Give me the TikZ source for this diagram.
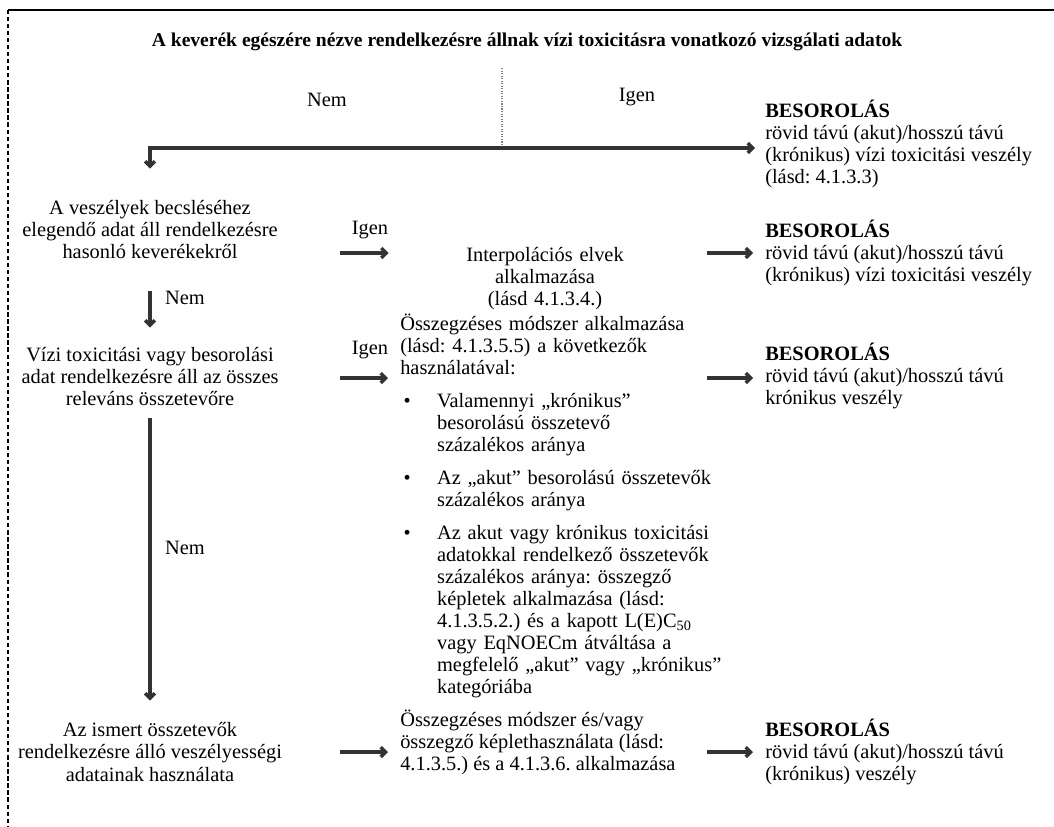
\documentclass[tikz,border=0pt]{standalone}
\usepackage{fontspec}
\setmainfont{Liberation Serif}
\usetikzlibrary{arrows.meta}

\tikzset{
  txt/.style={inner sep=0pt, font=\fontsize{14.5}{15.65}\selectfont\frenchspacing},
  flow/.style={-{Straight Barb[length=3.5pt,width=7pt]}, line width=2.4pt, black!80},
}

\begin{document}
\begin{tikzpicture}[x=0.025cm, y=-0.025cm]
    \useasboundingbox (0,0) rectangle (1054,827);
    % Frame
    \draw[line width=2pt] (8,10) -- (1054,10);
    \draw[densely dashed, line width=0.9pt] (8,10) -- (8,827);

    % Define nodes
    \node[txt, font=\fontsize{13.9}{16}\selectfont\bfseries] (title) at (527,42) {A keverék egészére nézve rendelkezésre állnak vízi toxicitásra vonatkozó vizsgálati adatok};
    \node[txt] (nem1) at (327,100) {Nem};
    \node[txt] (igen1) at (637,97) {Igen};
    \node[txt, align=left, anchor=west] (res1) at (765,144) {\textbf{BESOROLÁS}\\rövid távú (akut)/hosszú távú\\(krónikus) vízi toxicitási veszély\\(lásd: 4.1.3.3)};

    \node[txt, align=center] (step1) at (150,230) {A veszélyek becsléséhez\\elegendő adat áll rendelkezésre\\hasonló keverékekről};
    \node[txt] (igen2) at (370,230) {Igen};
    \node[txt, align=center, text width=7.5cm] (mid1) at (545,279) {Interpolációs elvek\\alkalmazása\\(lásd 4.1.3.4.)};
    \node[txt, align=left, anchor=west] (res2) at (765,253) {\textbf{BESOROLÁS}\\rövid távú (akut)/hosszú távú\\(krónikus) vízi toxicitási veszély};

    \node[txt] (nem2) at (185,298) {Nem};
    \node[txt, align=center] (step2) at (150,377) {Vízi toxicitási vagy besorolási\\adat rendelkezésre áll az összes\\releváns összetevőre};
    \node[txt] (igen3) at (370,350) {Igen};
    \node[txt, anchor=north west, text width=8.5cm] (mid2) at (400,314) {\raggedright
      Összegzéses módszer alkalmazása\\(lásd: 4.1.3.5.5) a következők\\használatával:\par
      \begin{list}{\textbullet}{\setlength\leftmargin{0.92cm}\setlength\labelsep{0.66cm}%
        \setlength\itemsep{0.27cm}\setlength\topsep{0.27cm}\setlength\parsep{0pt}\setlength\partopsep{0pt}}
      \item Valamennyi „krónikus”\\besorolású összetevő\\százalékos aránya
      \item Az „akut” besorolású összetevők\\százalékos aránya
      \item Az akut vagy krónikus toxicitási\\adatokkal rendelkező összetevők\\százalékos aránya: összegző\\képletek alkalmazása (lásd:\\4.1.3.5.2.) és a kapott L(E)C\textsubscript{50}\\vagy EqNOECm átváltása a\\megfelelő „akut” vagy „krónikus”\\kategóriába
      \end{list}};
    \node[txt, align=left, anchor=west] (res3) at (765,376) {\textbf{BESOROLÁS}\\rövid távú (akut)/hosszú távú\\krónikus veszély};

    \node[txt] (nem3) at (185,548) {Nem};
    \node[txt, align=center] (step3) at (150,752) {Az ismert összetevők\\rendelkezésre álló veszélyességi\\adatainak használata};
    \node[txt, align=left, anchor=west] (mid3) at (400,742) {Összegzéses módszer és/vagy\\összegző képlethasználata (lásd:\\4.1.3.5.) és a 4.1.3.6. alkalmazása};
    \node[txt, align=left, anchor=west] (res4) at (765,752) {\textbf{BESOROLÁS}\\rövid távú (akut)/hosszú távú\\(krónikus) veszély};

    % Define connections
    \coordinate (split) at (502,148);
    \coordinate (top) at (502,68);
    \draw[densely dotted, gray, line width=0.8pt] (top) -- (split);
    \draw[flow, shorten >=0.25cm] (split) -- (split -| res1.west);
    \draw[flow, shorten >=0.8cm] (split) -| (step1.north);
    \draw[flow, shorten <=0.8cm, shorten >=0.5cm] (step1.south) -- (step2.north);
    \draw[flow, shorten <=0.3cm, shorten >=0.55cm] (step2.south) -- (step3.north);

    \coordinate (in1) at (340,253);
    \coordinate (in2) at (340,378);
    \coordinate (in3) at (340,752);
    \draw[flow, shorten >=0.15cm] (in1) -- (in1 -| mid1.west);
    \draw[flow, shorten >=0.3cm] (in2) -- (in2 -| mid2.west);
    \draw[flow, shorten >=0.3cm] (in3) -- (in3 -| mid3.west);

    \coordinate (out1) at (707,253);
    \coordinate (out2) at (707,378);
    \coordinate (out3) at (707,752);
    \draw[flow, shorten >=0.3cm] (out1) -- (out1 -| res2.west);
    \draw[flow, shorten >=0.3cm] (out2) -- (out2 -| res3.west);
    \draw[flow, shorten >=0.3cm] (out3) -- (out3 -| res4.west);
\end{tikzpicture}
\end{document}
